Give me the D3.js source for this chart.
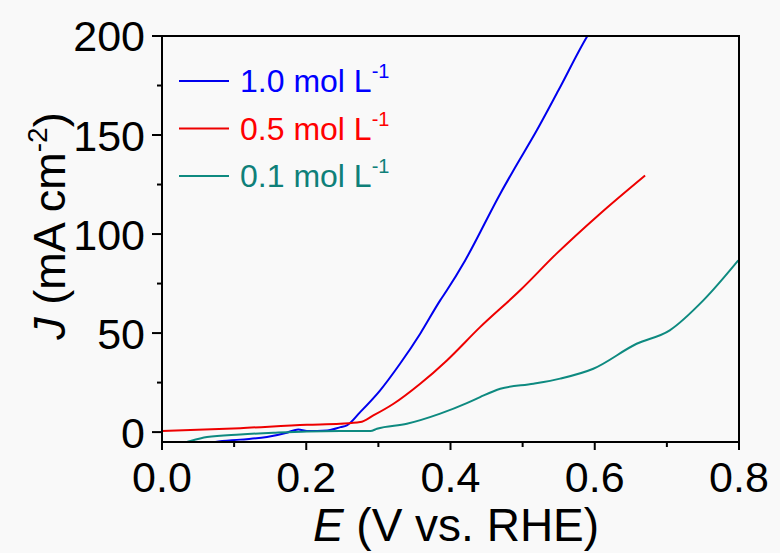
<!DOCTYPE html>
<html lang="en">
<meta charset="utf-8">

<head>
    <title>J vs E</title>
    <script src="https://d3js.org/d3.v7.min.js"></script>
    <style>
        body { margin: 0; background: #f9f9f9; }
        svg { font-family: "Liberation Sans", Arial, sans-serif; }
    </style>
</head>

<body>
    <div id="plot"></div>
    <script>
        // data (E in V vs. RHE, J in mA cm-2)
        var e10 = [0.060, 0.074, 0.1085, 0.1455, 0.173, 0.189, 0.201, 0.229, 0.2475, 0.2563, 0.2748, 0.3025, 0.330, 0.358, 0.3857, 0.395, 0.4203, 0.469, 0.487, 0.5197, 0.5497, 0.589, 0.60]
        var j10 = [-6.0, -5.0, -3.8, -2.5, -0.3, 1.35, 0.5, 0.85, 2.5, 3.4, 10.1, 21.1, 34.5, 49.7, 66.5, 71.6, 86.7, 120.4, 132.0, 152.4, 172.6, 199.5, 206]

        var e05 = [0.0, 0.1085, 0.201, 0.247, 0.2748, 0.293, 0.321, 0.358, 0.395, 0.441, 0.4966, 0.547, 0.6074, 0.6698]
        var j05 = [0.5, 2.0, 3.7, 4.2, 5.05, 8.4, 14.3, 24.4, 36.2, 53.0, 71.6, 90.1, 110.3, 129.6]

        var e01 = [0.025, 0.0346, 0.0624, 0.1085, 0.1547, 0.201, 0.247, 0.289, 0.298, 0.3395, 0.3857, 0.4226, 0.441, 0.469, 0.515, 0.552, 0.598, 0.658, 0.704, 0.7505, 0.799]
        var j01 = [-6.0, -5.0, -2.5, -1.2, -0.3, 0.35, 0.5, 0.5, 1.7, 4.2, 9.3, 14.6, 17.7, 21.9, 24.4, 27.0, 32.0, 44.6, 51.4, 66.5, 86.7]

        var labels = ["1.0 mol L", "0.5 mol L", "0.1 mol L"]
        var xTicks = [0.0, 0.2, 0.4, 0.6, 0.8]
        var xMinor = [0.1, 0.3, 0.5, 0.7]
        var yTicks = [0, 50, 100, 150, 200]
        var yMinor = [25, 75, 125, 175]

        var colors = ["#0000ee", "#ee0000", "#0e8a80"]
        var textColors = ["#0000ff", "#ff0000", "#0f8079"]

        var W = 780, H = 553
        var margin = { top: 36, right: 41, bottom: 111, left: 162 },
            width = W - margin.left - margin.right,
            height = H - margin.top - margin.bottom;

        var svg = d3.select("#plot").append("svg")
            .attr("width", W)
            .attr("height", H)
        var g = svg.append("g")
            .attr("transform", "translate(" + margin.left + "," + margin.top + ")");

        var x = d3.scaleLinear().domain([0, 0.8]).range([0, width])
        var y = d3.scaleLinear().domain([-5, 200]).range([height, 0])

        g.append("clipPath").attr("id", "clip")
            .append("rect").attr("width", width).attr("height", height)

        var series = [
            d3.zip(e10, j10),
            d3.zip(e05, j05),
            d3.zip(e01, j01)
        ]

        var line = d3.line()
            .x(function (d) { return x(d[0]); })
            .y(function (d) { return y(d[1]); })
            .curve(d3.curveMonotoneX)

        g.append("g").attr("clip-path", "url(#clip)")
            .selectAll("path")
            .data(series)
            .join("path")
            .attr("d", line)
            .attr("fill", "none")
            .attr("stroke", function (d, i) { return colors[i]; })
            .attr("stroke-width", 2)

        // frame
        g.append("rect")
            .attr("width", width).attr("height", height)
            .attr("fill", "none").attr("stroke", "#000").attr("stroke-width", 2)

        // x axis
        var xAxis = g.append("g").attr("transform", "translate(0," + height + ")")
        xAxis.selectAll(".maj").data(xTicks).join("line")
            .attr("x1", function (d) { return x(d); }).attr("x2", function (d) { return x(d); })
            .attr("y1", 0).attr("y2", 8).attr("stroke", "#000").attr("stroke-width", 2)
        xAxis.selectAll(".min").data(xMinor).join("line")
            .attr("class", "min")
            .attr("x1", function (d) { return x(d); }).attr("x2", function (d) { return x(d); })
            .attr("y1", 0).attr("y2", 5).attr("stroke", "#000").attr("stroke-width", 2)
        xAxis.selectAll("text").data(xTicks).join("text")
            .attr("x", function (d) { return x(d); })
            .attr("y", 49.5)
            .attr("text-anchor", "middle")
            .attr("font-size", 43)
            .text(function (d) { return d.toFixed(1); })

        // y axis
        var yAxis = g.append("g")
        yAxis.selectAll(".maj").data(yTicks).join("line")
            .attr("y1", function (d) { return y(d); }).attr("y2", function (d) { return y(d); })
            .attr("x1", 0).attr("x2", -10).attr("stroke", "#000").attr("stroke-width", 2)
        yAxis.selectAll(".min").data(yMinor).join("line")
            .attr("class", "min")
            .attr("y1", function (d) { return y(d); }).attr("y2", function (d) { return y(d); })
            .attr("x1", 0).attr("x2", -5).attr("stroke", "#000").attr("stroke-width", 2)
        yAxis.selectAll("text").data(yTicks).join("text")
            .attr("x", -17)
            .attr("y", function (d) { return y(d); })
            .attr("dy", "0.36em")
            .attr("text-anchor", "end")
            .attr("font-size", 43)
            .text(function (d) { return d; })

        // axis titles
        var xt = svg.append("text")
            .attr("x", 456).attr("y", 541)
            .attr("text-anchor", "middle")
            .attr("font-size", 46)
        xt.append("tspan").attr("font-style", "italic").text("E")
        xt.append("tspan").text(" (V vs. RHE)")

        var yt = svg.append("text")
            .attr("transform", "translate(65,226) rotate(-90)")
            .attr("text-anchor", "middle")
            .attr("font-size", 45)
        yt.append("tspan").attr("font-style", "italic").text("J")
        yt.append("tspan").text(" (mA cm")
        yt.append("tspan").attr("font-size", 28).attr("dy", -18).text("-2")
        yt.append("tspan").attr("dy", 18).text(")")

        // legend
        var leg = svg.append("g").attr("transform", "translate(179,81)")
        var item = leg.selectAll("g").data(labels).join("g")
            .attr("transform", function (d, i) { return "translate(0," + i * 47.5 + ")"; })
        item.append("line")
            .attr("x1", 0).attr("x2", 50)
            .attr("stroke", function (d, i) { return colors[i]; })
            .attr("stroke-width", 2)
        var lt = item.append("text")
            .attr("x", 61).attr("y", 11)
            .attr("font-size", 32)
            .attr("fill", function (d, i) { return textColors[i]; })
        lt.append("tspan").text(function (d) { return d; })
        lt.append("tspan").attr("font-size", 20).attr("dy", -14).text("-1")
    </script>
</body>

</html>
